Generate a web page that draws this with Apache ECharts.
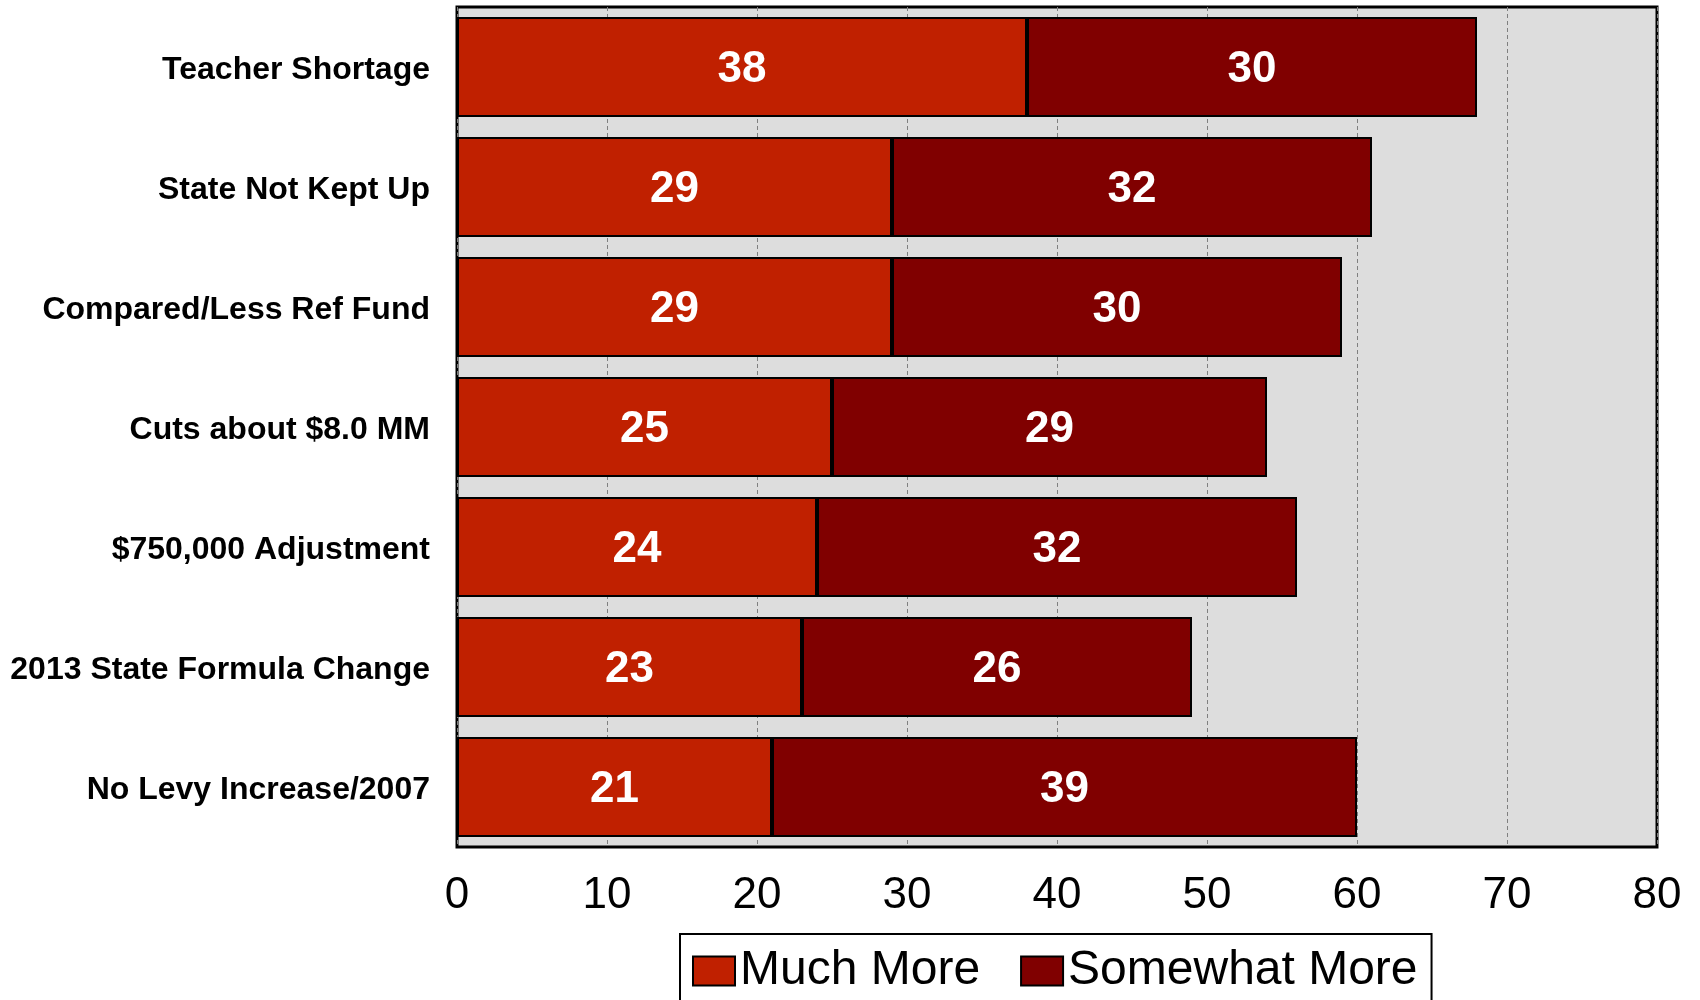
<!DOCTYPE html>
<html>
<head>
<meta charset="utf-8">
<script src="https://cdn.jsdelivr.net/npm/echarts@6/dist/echarts.min.js"></script>
<style>
  html, body { margin: 0; padding: 0; background: #fff; }
  #chart { width: 1700px; height: 1000px; }
</style>
</head>
<body>
<div id="chart"></div>
<script>
const categories = [
  'Teacher Shortage',
  'State Not Kept Up',
  'Compared/Less Ref Fund',
  'Cuts about $8.0 MM',
  '$750,000 Adjustment',
  '2013 State Formula Change',
  'No Levy Increase/2007'
];
const muchMore = [38, 29, 29, 25, 24, 23, 21];
const somewhatMore = [30, 32, 30, 29, 32, 26, 39];
const xTicks = [0, 10, 20, 30, 40, 50, 60, 70, 80];

const chart = echarts.init(document.getElementById('chart'), null, { renderer: 'canvas' });

const labelStyle = {
  show: true,
  position: 'inside',
  offset: [0, 3],
  color: '#ffffff',
  fontFamily: 'Liberation Sans',
  fontWeight: 'bold',
  fontSize: 44
};

chart.setOption({
  animation: false,
  backgroundColor: '#ffffff',
  grid: {
    left: 457, right: 43, top: 7, bottom: 153,
    show: true,
    backgroundColor: '#DDDDDD',
    borderColor: '#000000',
    borderWidth: 3
  },
  xAxis: {
    type: 'value',
    min: xTicks[0],
    max: xTicks[xTicks.length - 1],
    interval: 10,
    axisLine: { show: false },
    axisTick: { show: false },
    splitLine: { show: true, lineStyle: { color: '#7f7f7f', type: [4, 3], width: 1 } },
    axisLabel: {
      color: '#000', fontFamily: 'Liberation Sans', fontSize: 44, margin: 27
    }
  },
  yAxis: {
    type: 'category',
    data: categories,
    inverse: true,
    axisLine: { show: false },
    axisTick: { show: false },
    splitLine: { show: false },
    axisLabel: {
      margin: 27,
      formatter: function (v) { return '{c|' + v + '}'; },
      rich: {
        c: {
          color: '#000', fontFamily: 'Liberation Sans', fontWeight: 'bold', fontSize: 32,
          padding: [6, 0, 0, 0]
        }
      }
    }
  },
  legend: {
    left: 680,
    top: 934,
    orient: 'horizontal',
    backgroundColor: '#ffffff',
    borderColor: '#000000',
    borderWidth: 2,
    padding: [12, 14, 40, 12],
    itemWidth: 42,
    itemHeight: 29,
    itemGap: 40,
    icon: 'rect',
    textStyle: { color: '#000', fontFamily: 'Liberation Sans', fontSize: 48, lineHeight: 50 },
    data: ['Much More', 'Somewhat More']
  },
  series: [
    {
      name: 'Much More',
      type: 'bar',
      stack: 'total',
      barWidth: 100,
      data: muchMore,
      itemStyle: { color: '#C02000', borderColor: '#000000', borderWidth: 2 },
      label: labelStyle
    },
    {
      name: 'Somewhat More',
      type: 'bar',
      stack: 'total',
      barWidth: 100,
      data: somewhatMore,
      itemStyle: { color: '#800000', borderColor: '#000000', borderWidth: 2 },
      label: labelStyle
    }
  ]
});
</script>
</body>
</html>
